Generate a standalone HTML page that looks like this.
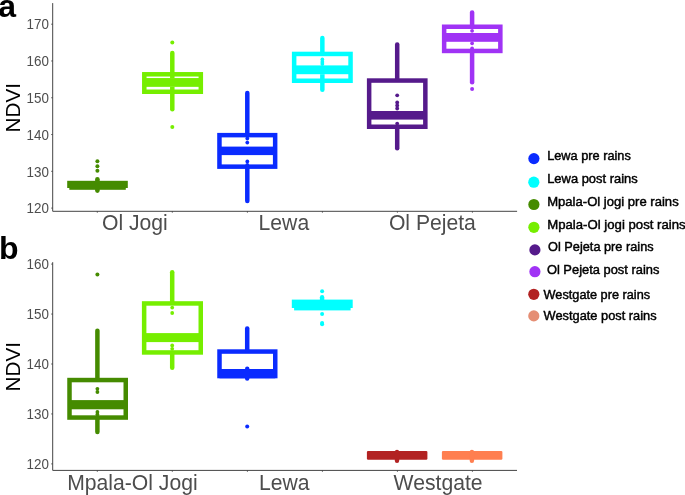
<!DOCTYPE html>
<html lang="en"><head><meta charset="utf-8"><title>NDVI boxplots</title>
<style>
html,body{margin:0;padding:0;background:#fff;}
body{width:685px;height:495px;overflow:hidden;}
svg{display:block;font-family:"Liberation Sans",sans-serif;}
.tk{font-size:14.5px;fill:#4d4d4d;text-anchor:end;}
.xl{font-size:22.2px;fill:#4d4d4d;}
.yl{font-size:20.7px;fill:#000;text-anchor:middle;}
.pl{font-size:32px;font-weight:bold;fill:#000;}
.lg{font-size:12.9px;fill:#000;stroke:#000;stroke-width:0.45px;}
.ax{stroke:#444;stroke-width:1;fill:none;}
</style></head><body>
<svg width="685" height="495" viewBox="0 0 685 495">
<rect width="685" height="495" fill="#fff"/>

<g id="panel-a">
<text class="pl" x="-1.8" y="16.9">a</text>
<path class="ax" d="M52.7 3.1V211.3H517.1"/>
<line class="ax" x1="51.3" y1="24.2" x2="52.7" y2="24.2"/>
<text class="tk" transform="translate(48.9 29.4) scale(0.925 1)">170</text>
<line class="ax" x1="51.3" y1="60.98" x2="52.7" y2="60.98"/>
<text class="tk" transform="translate(48.9 66.2) scale(0.925 1)">160</text>
<line class="ax" x1="51.3" y1="97.76" x2="52.7" y2="97.76"/>
<text class="tk" transform="translate(48.9 103.0) scale(0.925 1)">150</text>
<line class="ax" x1="51.3" y1="134.54" x2="52.7" y2="134.54"/>
<text class="tk" transform="translate(48.9 139.7) scale(0.925 1)">140</text>
<line class="ax" x1="51.3" y1="171.32" x2="52.7" y2="171.32"/>
<text class="tk" transform="translate(48.9 176.5) scale(0.925 1)">130</text>
<line class="ax" x1="51.3" y1="208.1" x2="52.7" y2="208.1"/>
<text class="tk" transform="translate(48.9 213.3) scale(0.925 1)">120</text>
<line class="ax" x1="97.3" y1="211.3" x2="97.3" y2="212.6"/>
<line class="ax" x1="172.3" y1="211.3" x2="172.3" y2="212.6"/>
<line class="ax" x1="247.4" y1="211.3" x2="247.4" y2="212.6"/>
<line class="ax" x1="322.4" y1="211.3" x2="322.4" y2="212.6"/>
<line class="ax" x1="397.4" y1="211.3" x2="397.4" y2="212.6"/>
<line class="ax" x1="472.4" y1="211.3" x2="472.4" y2="212.6"/>
<text class="yl" transform="translate(19.7 107.7) rotate(-90)">NDVI</text>
<text class="xl" transform="translate(102.0 229.9) scale(0.953 1)">Ol Jogi</text>
<text class="xl" transform="translate(258.6 229.9) scale(0.953 1)">Lewa</text>
<text class="xl" transform="translate(388.9 229.9) scale(0.953 1)">Ol Pejeta</text>
<rect x="67.2" y="180.8" width="60.6" height="7.2" fill="#458B00"/>
<rect x="69.3" y="187" width="56.5" height="2.8" fill="#458B00"/>
<line x1="97.4" y1="179.3" x2="97.4" y2="190.6" stroke="#458B00" stroke-width="4.6" stroke-linecap="round"/>
<circle cx="97.4" cy="161.3" r="2.0" fill="#458B00"/>
<circle cx="97.4" cy="166.3" r="2.0" fill="#458B00"/>
<circle cx="97.4" cy="170.7" r="2.0" fill="#458B00"/>
<rect x="144.30" y="74.29" width="56.52" height="17.46" fill="none" stroke="#76EE00" stroke-width="4.5"/>
<rect x="144.30" y="78.06" width="56.52" height="8.79" fill="#76EE00"/>
<line x1="172.3" y1="52.95" x2="172.3" y2="73.04" stroke="#76EE00" stroke-width="4.5" stroke-linecap="round"/>
<line x1="172.3" y1="93.00" x2="172.3" y2="109.25" stroke="#76EE00" stroke-width="4.5" stroke-linecap="round"/>
<line x1="172.3" y1="72.04" x2="172.3" y2="78.06" stroke="#76EE00" stroke-width="4.5"/>
<line x1="172.3" y1="86.85" x2="172.3" y2="94.00" stroke="#76EE00" stroke-width="4.5"/>
<circle cx="172.3" cy="42.5" r="2.0" fill="#76EE00"/>
<circle cx="172.3" cy="126.9" r="2.0" fill="#76EE00"/>
<rect x="219.45" y="135.15" width="55.70" height="31.50" fill="none" stroke="#0A2BFF" stroke-width="4.5"/>
<rect x="219.45" y="146.60" width="55.70" height="8.50" fill="#0A2BFF"/>
<line x1="247.3" y1="92.95" x2="247.3" y2="133.90" stroke="#0A2BFF" stroke-width="4.5" stroke-linecap="round"/>
<line x1="247.3" y1="167.90" x2="247.3" y2="201.05" stroke="#0A2BFF" stroke-width="4.5" stroke-linecap="round"/>
<circle cx="247.3" cy="138.5" r="1.9" fill="#0A2BFF"/>
<circle cx="247.3" cy="142.6" r="1.9" fill="#0A2BFF"/>
<circle cx="247.3" cy="161.4" r="1.9" fill="#0A2BFF"/>
<circle cx="247.3" cy="165" r="1.9" fill="#0A2BFF"/>
<rect x="294.15" y="53.95" width="56.40" height="26.80" fill="none" stroke="#00FFFF" stroke-width="4.5"/>
<rect x="294.15" y="65.40" width="56.40" height="8.80" fill="#00FFFF"/>
<line x1="322.35" y1="37.95" x2="322.35" y2="52.70" stroke="#00FFFF" stroke-width="4.5" stroke-linecap="round"/>
<line x1="322.35" y1="82.00" x2="322.35" y2="89.75" stroke="#00FFFF" stroke-width="4.5" stroke-linecap="round"/>
<line x1="322.35" y1="74.20" x2="322.35" y2="83.00" stroke="#00FFFF" stroke-width="4.5"/>
<circle cx="322.35" cy="59.5" r="1.9" fill="#00FFFF"/>
<circle cx="322.35" cy="62" r="1.9" fill="#00FFFF"/>
<circle cx="322.35" cy="64" r="1.9" fill="#00FFFF"/>
<rect x="369.15" y="80.55" width="56.20" height="46.20" fill="none" stroke="#551A8B" stroke-width="4.5"/>
<rect x="369.15" y="111.00" width="56.20" height="8.60" fill="#551A8B"/>
<line x1="397.2" y1="44.45" x2="397.2" y2="79.30" stroke="#551A8B" stroke-width="4.5" stroke-linecap="round"/>
<line x1="397.2" y1="128.00" x2="397.2" y2="148.25" stroke="#551A8B" stroke-width="4.5" stroke-linecap="round"/>
<circle cx="397.2" cy="95.3" r="1.9" fill="#551A8B"/>
<circle cx="397.2" cy="102.5" r="1.9" fill="#551A8B"/>
<circle cx="397.2" cy="105.5" r="1.9" fill="#551A8B"/>
<circle cx="397.2" cy="108.5" r="1.9" fill="#551A8B"/>
<circle cx="397.2" cy="123.6" r="1.9" fill="#551A8B"/>
<rect x="444.15" y="26.75" width="56.20" height="24.20" fill="none" stroke="#A033F5" stroke-width="4.5"/>
<rect x="444.15" y="33.00" width="56.20" height="8.80" fill="#A033F5"/>
<line x1="472.1" y1="12.55" x2="472.1" y2="25.50" stroke="#A033F5" stroke-width="4.5" stroke-linecap="round"/>
<line x1="472.1" y1="52.20" x2="472.1" y2="82.35" stroke="#A033F5" stroke-width="4.5" stroke-linecap="round"/>
<circle cx="472.1" cy="30.8" r="1.9" fill="#A033F5"/>
<circle cx="472.1" cy="43.3" r="1.9" fill="#A033F5"/>
<circle cx="472.1" cy="48.3" r="1.9" fill="#A033F5"/>
<circle cx="472.1" cy="89.0" r="2.0" fill="#A033F5"/>
</g>
<g id="panel-b">
<text class="pl" x="-0.9" y="259.2">b</text>
<path class="ax" d="M52.7 262.2V470.4H517"/>
<line class="ax" x1="51.3" y1="264.1" x2="52.7" y2="264.1"/>
<text class="tk" transform="translate(48.9 269.3) scale(0.925 1)">160</text>
<line class="ax" x1="51.3" y1="314.05" x2="52.7" y2="314.05"/>
<text class="tk" transform="translate(48.9 319.2) scale(0.925 1)">150</text>
<line class="ax" x1="51.3" y1="364.0" x2="52.7" y2="364.0"/>
<text class="tk" transform="translate(48.9 369.2) scale(0.925 1)">140</text>
<line class="ax" x1="51.3" y1="413.95" x2="52.7" y2="413.95"/>
<text class="tk" transform="translate(48.9 419.1) scale(0.925 1)">130</text>
<line class="ax" x1="51.3" y1="463.9" x2="52.7" y2="463.9"/>
<text class="tk" transform="translate(48.9 469.1) scale(0.925 1)">120</text>
<line class="ax" x1="97.3" y1="470.4" x2="97.3" y2="471.7"/>
<line class="ax" x1="172.3" y1="470.4" x2="172.3" y2="471.7"/>
<line class="ax" x1="247.4" y1="470.4" x2="247.4" y2="471.7"/>
<line class="ax" x1="322.4" y1="470.4" x2="322.4" y2="471.7"/>
<line class="ax" x1="397.4" y1="470.4" x2="397.4" y2="471.7"/>
<line class="ax" x1="472.4" y1="470.4" x2="472.4" y2="471.7"/>
<text class="yl" transform="translate(19.7 366.7) rotate(-90)">NDVI</text>
<text class="xl" transform="translate(67.2 490.1) scale(0.953 1)">Mpala-Ol Jogi</text>
<text class="xl" transform="translate(259.0 490.1) scale(0.953 1)">Lewa</text>
<text class="xl" transform="translate(393.6 490.1) scale(0.953 1)">Westgate</text>
<rect x="69.50" y="380.05" width="56.25" height="37.50" fill="none" stroke="#458B00" stroke-width="4.5"/>
<rect x="69.50" y="400.10" width="56.25" height="9.20" fill="#458B00"/>
<line x1="97.4" y1="330.65" x2="97.4" y2="378.80" stroke="#458B00" stroke-width="4.5" stroke-linecap="round"/>
<line x1="97.4" y1="418.80" x2="97.4" y2="432.05" stroke="#458B00" stroke-width="4.5" stroke-linecap="round"/>
<circle cx="97.4" cy="388.8" r="1.9" fill="#458B00"/>
<circle cx="97.4" cy="392" r="1.9" fill="#458B00"/>
<circle cx="97.4" cy="412.0" r="1.9" fill="#458B00"/>
<circle cx="97.4" cy="414.5" r="1.9" fill="#458B00"/>
<circle cx="97.4" cy="274.4" r="2.0" fill="#458B00"/>
<rect x="144.15" y="303.45" width="56.60" height="49.00" fill="none" stroke="#76EE00" stroke-width="4.5"/>
<rect x="144.15" y="333.10" width="56.60" height="9.00" fill="#76EE00"/>
<line x1="172.2" y1="272.25" x2="172.2" y2="302.20" stroke="#76EE00" stroke-width="4.5" stroke-linecap="round"/>
<line x1="172.2" y1="353.70" x2="172.2" y2="367.85" stroke="#76EE00" stroke-width="4.5" stroke-linecap="round"/>
<circle cx="172.2" cy="307.6" r="1.9" fill="#76EE00"/>
<circle cx="172.2" cy="313.0" r="1.9" fill="#76EE00"/>
<circle cx="172.2" cy="345.5" r="1.9" fill="#76EE00"/>
<circle cx="172.2" cy="348.8" r="1.9" fill="#76EE00"/>
<rect x="219.50" y="351.55" width="55.75" height="24.50" fill="none" stroke="#0A2BFF" stroke-width="4.5"/>
<rect x="219.50" y="369.00" width="55.75" height="9.30" fill="#0A2BFF"/>
<line x1="247.2" y1="328.45" x2="247.2" y2="350.30" stroke="#0A2BFF" stroke-width="4.5" stroke-linecap="round"/>
<circle cx="247.2" cy="426.6" r="2.0" fill="#0A2BFF"/>
<line x1="247.2" y1="368.8" x2="247.2" y2="378.5" stroke="#0A2BFF" stroke-width="4.4" stroke-linecap="round"/>
<rect x="291.8" y="299.6" width="60.9" height="8.4" fill="#00FFFF"/>
<rect x="294.1" y="307" width="56.5" height="3.4" fill="#00FFFF"/>
<line x1="322.1" y1="297.2" x2="322.1" y2="308" stroke="#00FFFF" stroke-width="4.4" stroke-linecap="round"/>
<circle cx="322.1" cy="291.3" r="2.0" fill="#00FFFF"/>
<circle cx="322.1" cy="314.1" r="2.0" fill="#00FFFF"/>
<circle cx="322.1" cy="322.9" r="2.0" fill="#00FFFF"/>
<circle cx="322.1" cy="324.2" r="2.0" fill="#00FFFF"/>
<rect x="366.9" y="450.9" width="60.5" height="8.8" rx="1.2" fill="#B22222"/>
<line x1="397.0" y1="452" x2="397.0" y2="460.7" stroke="#B22222" stroke-width="4.4" stroke-linecap="round"/>
<rect x="441.9" y="450.9" width="60.5" height="8.8" rx="1.2" fill="#FF7F50"/>
<line x1="471.9" y1="452" x2="471.9" y2="460.7" stroke="#FF7F50" stroke-width="4.4" stroke-linecap="round"/>
</g>
<g id="legend">
<circle cx="533.9" cy="158.6" r="5.6" fill="#0A2BFF"/>
<text class="lg" x="547.2" y="160.1" textLength="83.6" lengthAdjust="spacingAndGlyphs">Lewa pre rains</text>
<circle cx="533.8" cy="182.2" r="5.6" fill="#00FFFF"/>
<text class="lg" x="547.2" y="183.2" textLength="90.5" lengthAdjust="spacingAndGlyphs">Lewa post rains</text>
<circle cx="533.9" cy="204.5" r="5.6" fill="#458B00"/>
<text class="lg" x="547.2" y="206.2" textLength="131.5" lengthAdjust="spacingAndGlyphs">Mpala-Ol jogi pre rains</text>
<circle cx="533.9" cy="227.3" r="5.6" fill="#76EE00"/>
<text class="lg" x="547.2" y="229.4" textLength="138.5" lengthAdjust="spacingAndGlyphs">Mpala-Ol jogi post rains</text>
<circle cx="534.9" cy="249.9" r="5.6" fill="#551A8B"/>
<text class="lg" x="548.1" y="251.3" textLength="105.5" lengthAdjust="spacingAndGlyphs">Ol Pejeta pre rains</text>
<circle cx="534.9" cy="271.7" r="5.6" fill="#A033F5"/>
<text class="lg" x="546.9" y="273.9" textLength="112.5" lengthAdjust="spacingAndGlyphs">Ol Pejeta post rains</text>
<circle cx="533.8" cy="294.3" r="5.6" fill="#B22222"/>
<text class="lg" x="543.6" y="298.8" textLength="106.5" lengthAdjust="spacingAndGlyphs">Westgate pre rains</text>
<circle cx="533.8" cy="315.9" r="5.6" fill="#E58E74"/>
<text class="lg" x="543.6" y="319.6" textLength="113.0" lengthAdjust="spacingAndGlyphs">Westgate post rains</text>
</g>
</svg>
</body></html>
